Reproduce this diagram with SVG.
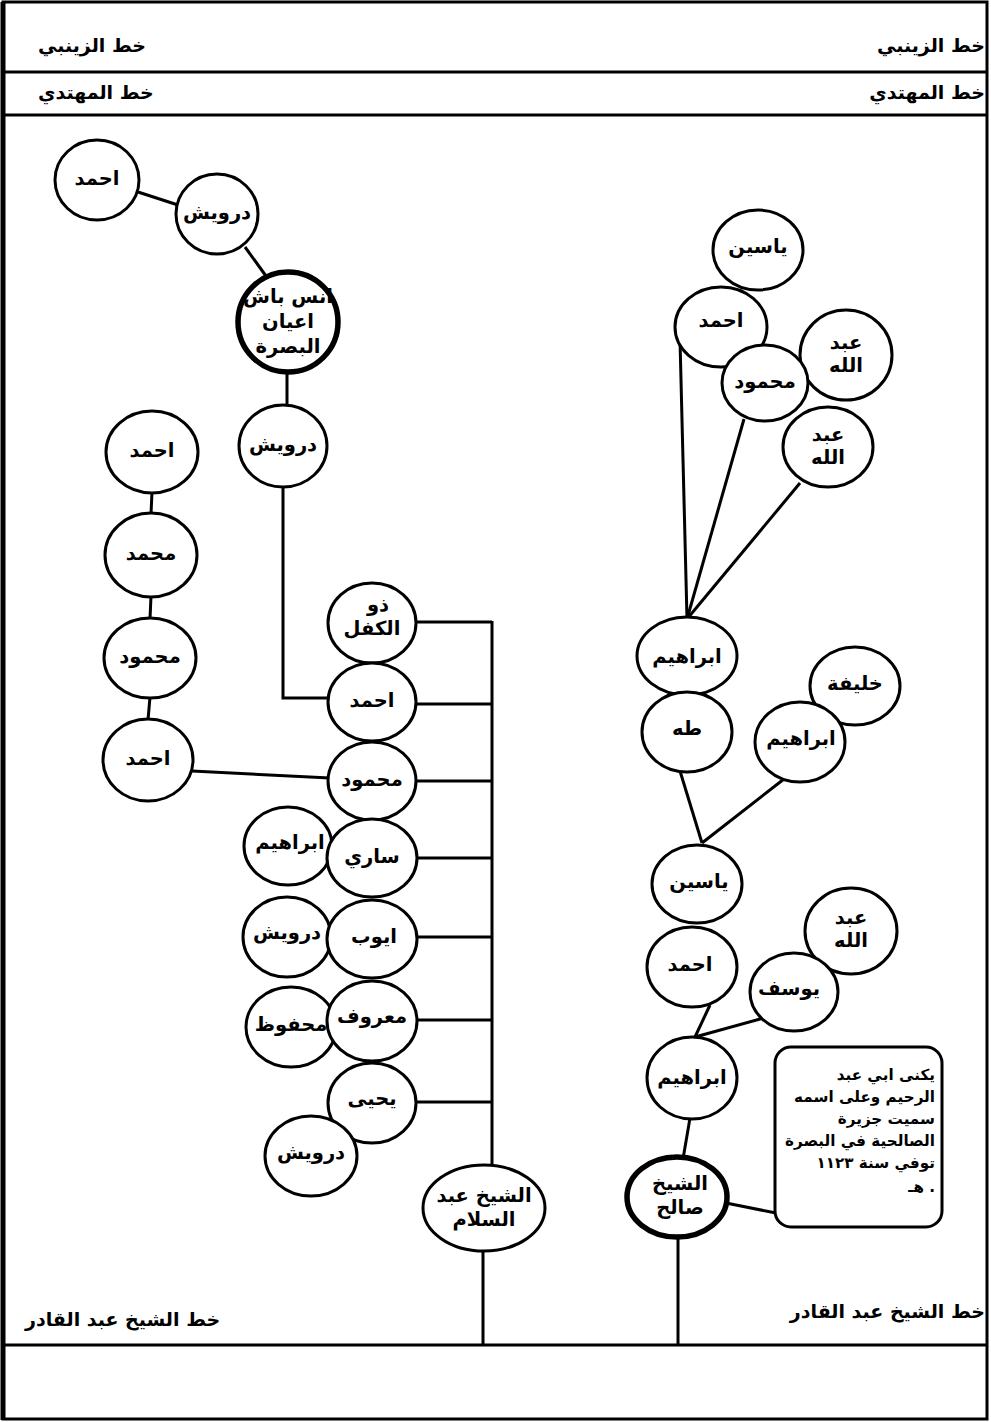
<svg xmlns="http://www.w3.org/2000/svg" width="991" height="1422" viewBox="0 0 991 1422">
<style>
.n{fill:#fff;stroke:#000;stroke-width:3}
.k{fill:#fff;stroke:#000;stroke-width:5.5}
.t{font-family:"DejaVu Sans",sans-serif;font-weight:bold;font-size:19.5px;text-anchor:middle;dominant-baseline:central;fill:#000}
.h{font-family:"DejaVu Sans",sans-serif;font-weight:bold;font-size:19px;fill:#000}
.m{font-family:"DejaVu Sans",sans-serif;font-weight:bold;font-size:15.2px;text-anchor:end;fill:#000}
.c{stroke:#000;stroke-width:3;fill:none}
.f{stroke:#000;fill:none}
</style>
<rect width="991" height="1422" fill="#fff"/>
<g id="frame">
<rect class="f" x="3" y="2" width="984" height="1417" stroke-width="3"/>
<line class="f" x1="3" y1="2" x2="3" y2="1420" stroke-width="5"/>
<line class="f" x1="3" y1="72" x2="987" y2="72" stroke-width="3"/>
<line class="f" x1="3" y1="115" x2="987" y2="115" stroke-width="3"/>
<line class="f" x1="3" y1="1345" x2="987" y2="1345" stroke-width="3"/>
<text class="h" x="38" y="52">خط الزينبي</text>
<text class="h" x="985" y="52" text-anchor="end">خط الزينبي</text>
<text class="h" x="38" y="99">خط المهتدي</text>
<text class="h" x="985" y="99" text-anchor="end">خط المهتدي</text>
<text class="h" x="25" y="1326">خط الشيخ عبد القادر</text>
<text class="h" x="985" y="1318" text-anchor="end">خط الشيخ عبد القادر</text>
</g>
<g id="connectors">
<line class="c" x1="138" y1="192" x2="178" y2="205"/>
<line class="c" x1="245" y1="247" x2="266" y2="276"/>
<line class="c" x1="287" y1="370" x2="287" y2="406"/>
<polyline class="c" points="283,487 283,698 330,698"/>
<line class="c" x1="152" y1="492" x2="151" y2="514"/>
<line class="c" x1="151" y1="596" x2="150" y2="619"/>
<line class="c" x1="150" y1="697" x2="148" y2="720"/>
<line class="c" x1="192" y1="771" x2="330" y2="778"/>
<line class="c" x1="492" y1="621" x2="492" y2="1166"/>
<line class="c" x1="414" y1="622" x2="492" y2="622"/>
<line class="c" x1="414" y1="704" x2="492" y2="704"/>
<line class="c" x1="414" y1="781" x2="492" y2="781"/>
<line class="c" x1="415" y1="858" x2="492" y2="858"/>
<line class="c" x1="415" y1="937" x2="492" y2="937"/>
<line class="c" x1="415" y1="1020" x2="492" y2="1020"/>
<line class="c" x1="414" y1="1102" x2="492" y2="1102"/>
<line class="c" x1="483" y1="1250" x2="483" y2="1345"/>
<line class="c" x1="680" y1="340" x2="687" y2="619"/>
<line class="c" x1="744" y1="419" x2="687" y2="619"/>
<line class="c" x1="800" y1="483" x2="687" y2="619"/>
<line class="c" x1="680" y1="771" x2="702" y2="843"/>
<line class="c" x1="784" y1="779" x2="702" y2="843"/>
<line class="c" x1="710" y1="1005" x2="695" y2="1037"/>
<line class="c" x1="764" y1="1018" x2="695" y2="1037"/>
<line class="c" x1="690" y1="1118" x2="683" y2="1159"/>
<line class="c" x1="726" y1="1203" x2="776" y2="1213"/>
<line class="c" x1="678" y1="1236" x2="678" y2="1345"/>
</g>
<g id="n1"><ellipse class="n" cx="97" cy="180" rx="42" ry="40" stroke-width="4.5"/><text class="t" x="97" y="178">احمد</text></g>
<g id="n2"><ellipse class="n" cx="217" cy="214" rx="41" ry="40"/><text class="t" x="217" y="212">درويش</text></g>
<g id="n3"><ellipse class="k" cx="288" cy="322" rx="50" ry="50"/><text class="t" x="288" y="296" font-size="18">انس باش</text><text class="t" x="288" y="321" font-size="18">اعيان</text><text class="t" x="288" y="346" font-size="18">البصرة</text></g>
<g id="n4"><ellipse class="n" cx="283" cy="446" rx="44" ry="41"/><text class="t" x="283" y="444">درويش</text></g>
<g id="n5"><ellipse class="n" cx="152" cy="452" rx="46" ry="41"/><text class="t" x="152" y="450">احمد</text></g>
<g id="n6"><ellipse class="n" cx="151" cy="555" rx="46" ry="42"/><text class="t" x="151" y="553">محمد</text></g>
<g id="n7"><ellipse class="n" cx="150" cy="658" rx="46" ry="40"/><text class="t" x="150" y="656">محمود</text></g>
<g id="n8"><ellipse class="n" cx="148" cy="760" rx="45" ry="41"/><text class="t" x="148" y="758">احمد</text></g>
<g id="n9"><ellipse class="n" cx="372" cy="623" rx="44" ry="40"/><text class="t" x="378" y="604">ذو</text><text class="t" x="372" y="628">الكفل</text></g>
<g id="n10"><ellipse class="n" cx="372" cy="702" rx="44" ry="39"/><text class="t" x="372" y="700">احمد</text></g>
<g id="n11"><ellipse class="n" cx="372" cy="781" rx="44" ry="39"/><text class="t" x="372" y="779">محمود</text></g>
<g id="n13"><ellipse class="n" cx="288" cy="846" rx="44" ry="39"/><text class="t" x="290" y="842">ابراهيم</text></g>
<g id="n12"><ellipse class="n" cx="372" cy="858" rx="45" ry="39"/><text class="t" x="372" y="856">ساري</text></g>
<g id="n15"><ellipse class="n" cx="287" cy="937" rx="44" ry="40"/><text class="t" x="287" y="932">درويش</text></g>
<g id="n14"><ellipse class="n" cx="372" cy="939" rx="45" ry="39"/><text class="t" x="374" y="936">ايوب</text></g>
<g id="n17"><ellipse class="n" cx="291" cy="1027" rx="45" ry="40"/><text class="t" x="291" y="1024">محفوظ</text></g>
<g id="n16"><ellipse class="n" cx="372" cy="1021" rx="45" ry="40"/><text class="t" x="372" y="1016">معروف</text></g>
<g id="n18"><ellipse class="n" cx="372" cy="1103" rx="44" ry="40"/><text class="t" x="372" y="1098">يحيى</text></g>
<g id="n19"><ellipse class="n" cx="311" cy="1156" rx="46" ry="40"/><text class="t" x="311" y="1152">درويش</text></g>
<g id="n20"><ellipse class="n" cx="484" cy="1208" rx="61" ry="43"/><text class="t" x="484" y="1195" font-size="17">الشيخ عبد</text><text class="t" x="484" y="1219" font-size="17">السلام</text></g>
<g id="n21"><ellipse class="n" cx="758" cy="250" rx="45" ry="40"/><text class="t" x="758" y="246">ياسين</text></g>
<g id="n22"><ellipse class="n" cx="721" cy="327" rx="46" ry="40"/><text class="t" x="721" y="320">احمد</text></g>
<g id="n23"><ellipse class="n" cx="846" cy="355" rx="46" ry="45"/><text class="t" x="846" y="342">عبد</text><text class="t" x="846" y="365">الله</text></g>
<g id="n24"><ellipse class="n" cx="765" cy="383" rx="43" ry="38"/><text class="t" x="765" y="381">محمود</text></g>
<g id="n25"><ellipse class="n" cx="828" cy="447" rx="45" ry="40"/><text class="t" x="828" y="434">عبد</text><text class="t" x="828" y="457">الله</text></g>
<g id="n26"><ellipse class="n" cx="687" cy="656" rx="50" ry="39"/><text class="t" x="687" y="656">ابراهيم</text></g>
<g id="n27"><ellipse class="n" cx="687" cy="732" rx="45" ry="40"/><text class="t" x="687" y="728">طه</text></g>
<g id="n28"><ellipse class="n" cx="855" cy="686" rx="45" ry="39"/><text class="t" x="855" y="683">خليفة</text></g>
<g id="n29"><ellipse class="n" cx="800" cy="742" rx="45" ry="40"/><text class="t" x="801" y="738">ابراهيم</text></g>
<g id="n30"><ellipse class="n" cx="697" cy="884" rx="45" ry="39"/><text class="t" x="699" y="881">ياسين</text></g>
<g id="n31"><ellipse class="n" cx="692" cy="967" rx="45" ry="40"/><text class="t" x="690" y="964">احمد</text></g>
<g id="n32"><ellipse class="n" cx="851" cy="931" rx="46" ry="43"/><text class="t" x="851" y="917">عبد</text><text class="t" x="851" y="940">الله</text></g>
<g id="n33"><ellipse class="n" cx="794" cy="992" rx="44" ry="39"/><text class="t" x="789" y="988">يوسف</text></g>
<g id="n34"><ellipse class="n" cx="692" cy="1078" rx="45" ry="41"/><text class="t" x="692" y="1077">ابراهيم</text></g>
<g id="n35"><ellipse class="k" cx="677" cy="1197" rx="50" ry="40"/><text class="t" x="680" y="1183">الشيخ</text><text class="t" x="680" y="1207">صالح</text></g>
<g id="n36"><rect class="n" x="775" y="1047" width="167" height="180" rx="16"/>
<text class="m" x="935" y="1080">يكنى ابي عبد</text>
<text class="m" x="935" y="1102">الرحيم وعلى اسمه</text>
<text class="m" x="935" y="1124">سميت جزيرة</text>
<text class="m" x="935" y="1146">الصالحية في البصرة</text>
<text class="m" x="935" y="1168">توفي سنة ١١٢٣</text>
<text class="m" x="935" y="1192">هـ .</text>
</g>
</svg>
